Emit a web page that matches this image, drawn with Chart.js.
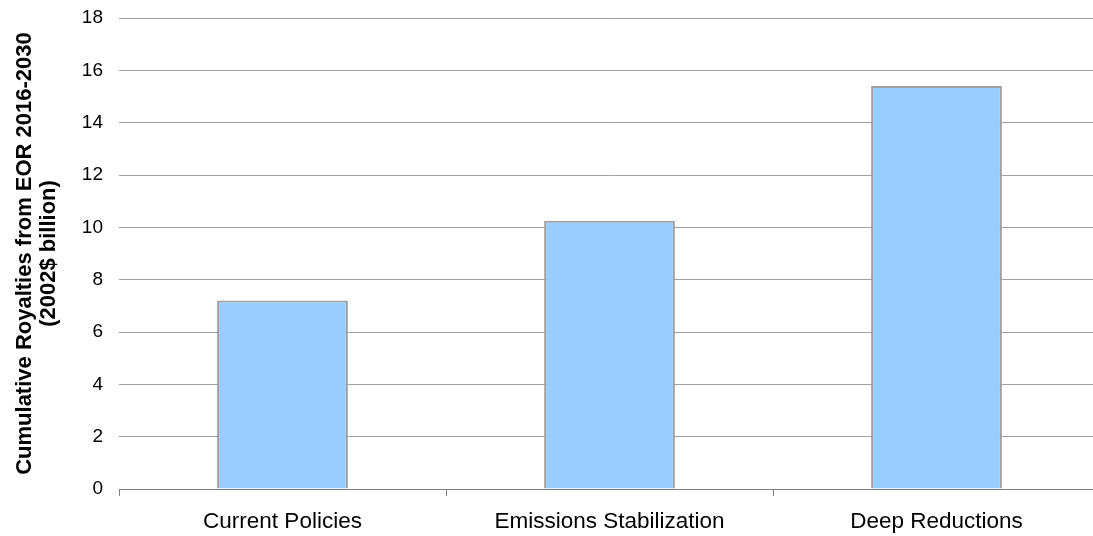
<!DOCTYPE html>
<html>
<head>
<meta charset="utf-8">
<script src="https://cdn.jsdelivr.net/npm/chart.js@4/dist/chart.umd.min.js"></script>
<style>
  html, body { margin: 0; padding: 0; background: #ffffff; overflow: hidden; }
  #wrap { width: 1100px; height: 536px; }
</style>
</head>
<body>
<div id="wrap"><canvas id="c" width="1100" height="536"></canvas></div>
<script>
// Scenario names along the x axis
const categories = ['Current Policies', 'Emissions Stabilization', 'Deep Reductions'];
// Cumulative royalties from EOR 2016-2030, 2002$ billion
const royalties = [7.2, 10.25, 15.4];
// Value axis range
const yMin = 0;
const yMax = 18;
const yStep = 2;
const yTitle = ['Cumulative Royalties from EOR 2016-2030', '(2002$ billion)'];

const FONT = '"Liberation Sans", Arial, sans-serif';

new Chart(document.getElementById('c'), {
  type: 'bar',
  data: {
    labels: categories,
    datasets: [{
      data: royalties,
      backgroundColor: '#99ccff',
      borderColor: '#a0a0a0',
      borderWidth: 2,
      barPercentage: 0.4,
      categoryPercentage: 1.0
    }]
  },
  options: {
    responsive: false,
    animation: false,
    layout: { padding: { top: 18, right: 0, bottom: 0, left: 0 } },
    plugins: {
      legend: { display: false },
      tooltip: { enabled: false }
    },
    scales: {
      x: {
        grid: {
          offset: true,
          drawOnChartArea: false,
          drawTicks: true,
          tickLength: 7,
          color: '#808080'
        },
        border: { display: true, color: '#808080', width: 1 },
        ticks: {
          color: '#000',
          font: { family: FONT, size: 22.5 },
          padding: 12,
          maxRotation: 0
        },
        afterFit: (s) => { s.height = 47; }
      },
      y: {
        min: yMin,
        max: yMax,
        grid: {
          color: '#a0a0a0',
          lineWidth: 1,
          drawTicks: false
        },
        border: { display: false },
        ticks: {
          stepSize: yStep,
          color: '#000',
          font: { family: FONT, size: 19 },
          padding: 16
        },
        title: {
          display: true,
          text: yTitle,
          color: '#000',
          font: { family: FONT, size: 22, weight: 'bold', lineHeight: 1.1 },
          padding: { top: 13, bottom: 0 }
        },
        afterFit: (s) => {
          s.width = 119;
          // keep the plot top pinned to the layout padding
          s.paddingTop = 0;
          s.paddingBottom = 0;
        }
      }
    }
  }
});
</script>
</body>
</html>
